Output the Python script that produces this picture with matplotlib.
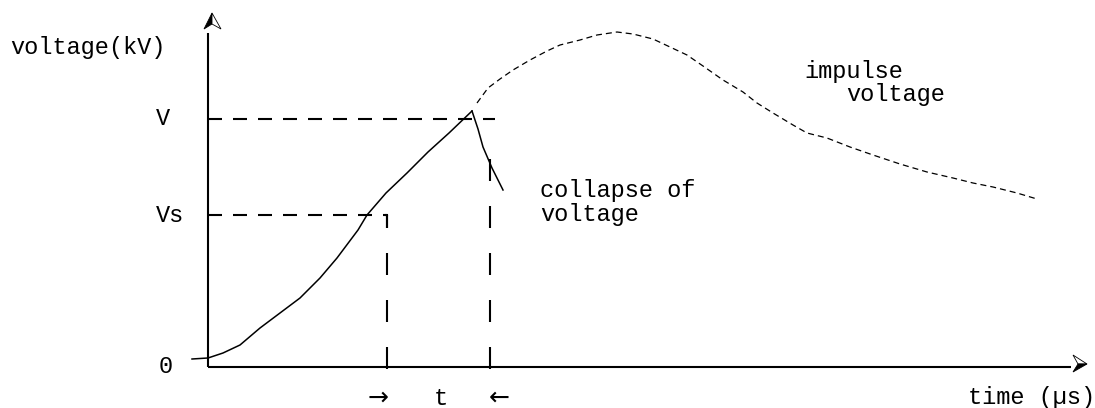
import matplotlib
matplotlib.use("Agg")
import matplotlib.pyplot as plt
from matplotlib.patches import Polygon

plt.rcParams['lines.scale_dashes'] = False
FONT = ['Liberation Mono', 'DejaVu Sans Mono']
FS = 17

# ---- data (time / voltage in arbitrary schematic units) ----
rise_t = [-16, 0, 15, 32, 52, 72, 92, 112, 129, 150, 159, 178, 199, 220, 241, 264]
rise_v = [8, 9, 14, 22, 39, 54, 69, 89, 109, 137, 152, 174, 194, 215, 234, 256]
collapse_t = [264, 270, 275, 284, 295]
collapse_v = [256, 238, 220, 199, 177]
impulse_t = [269, 280, 292, 305, 322, 339, 352, 372, 389, 409, 425, 445, 462,
             479, 495, 515, 535, 549, 565, 585, 599, 619, 642, 665, 692, 719,
             745, 765, 785, 809, 829]
impulse_v = [264, 279, 288, 297, 307, 316, 322, 327, 332, 335, 333, 328, 320,
             312, 301, 287, 275, 264, 254, 242, 234, 229, 220, 212, 203, 195,
             189, 184, 180, 174, 168]
V_level = 248
Vs_level = 152
V_dash_end = 287
t_s = 179
t_b = 282
t_b_top = 214
x_axis_end = 863
y_axis_end = 334

fig = plt.figure(figsize=(10.95, 4.08), dpi=100)
ax = fig.add_axes([0, 0, 1, 1])
ax.set_xlim(-208, 887)
ax.set_ylim(-41, 367)
ax.axis('off')

px = 0.72  # points per pixel

# axes lines
ax.plot([0, x_axis_end], [0, 0], color='black', lw=1.5, solid_capstyle='butt')
ax.plot([0, 0], [0, y_axis_end], color='black', lw=1.5, solid_capstyle='butt')

# arrowheads (half filled, half outlined)
def up_arrow(x, ybase):
    tip = (x + 4, ybase + 20)
    left = (x - 4, ybase + 4)
    right = (x + 13, ybase + 4)
    mid = (x + 4, ybase + 9)
    ax.add_patch(Polygon([tip, left, mid], closed=True, fc='black', ec='black', lw=0.6))
    ax.add_patch(Polygon([tip, mid, right], closed=True, fc='white', ec='black', lw=0.6))

def right_arrow(xbase, y):
    tip = (xbase + 16, y + 3)
    top = (xbase + 2, y + 12)
    bot = (xbase + 2, y - 5)
    mid = (xbase + 7, y + 3)
    ax.add_patch(Polygon([tip, top, mid], closed=True, fc='white', ec='black', lw=0.6))
    ax.add_patch(Polygon([tip, mid, bot], closed=True, fc='black', ec='black', lw=0.6))

up_arrow(0, y_axis_end)
right_arrow(x_axis_end, 0)

# level dashed lines
hd = (0, (14 * px, 11 * px))
ax.plot([0, V_dash_end], [V_level, V_level], color='black', lw=1.5, linestyle=hd,
        dash_capstyle='butt')
ax.plot([0, t_s], [Vs_level, Vs_level], color='black', lw=1.5, linestyle=hd,
        dash_capstyle='butt')
vd = (0, (22 * px, 25 * px))
ax.plot([t_s, t_s], [-2, Vs_level], color='black', lw=1.5, linestyle=vd,
        dash_capstyle='butt')
ax.plot([t_s - 1, t_s], [Vs_level, Vs_level], color='black', lw=1.5)
ax.plot([t_s, t_s], [Vs_level, Vs_level - 13], color='black', lw=1.5,
        solid_capstyle='butt')
ax.plot([t_b, t_b], [-2, t_b_top], color='black', lw=1.5, linestyle=vd,
        dash_capstyle='butt')

# curves
ax.plot(rise_t, rise_v, color='black', lw=1.1, solid_joinstyle='round')
ax.plot(collapse_t, collapse_v, color='black', lw=1.1, solid_joinstyle='round')
ax.plot(impulse_t, impulse_v, color='black', lw=0.9,
        linestyle=(0, (6 * px, 4 * px)))

# texts
def txt(x, y, s, **kw):
    ax.text(x, y, s, fontsize=FS, family=FONT, color='black', ha='left',
            va='baseline', **kw)

txt(-198, 313, 'voltage(kV)')
txt(-52, 242, 'V')
txt(-52, 145, 'Vs')
txt(-49, -6, '0')
txt(332, 170, 'collapse of')
txt(332, 146, 'voltage')
txt(596, 289, 'impulse')
txt(638, 266, 'voltage')
txt(760, -37, 'time (\u00b5s)')
ax.text(170, -38, '\u2192', fontsize=18, family=['DejaVu Sans'], ha='center',
        va='baseline')
ax.text(233, -38, 't', fontsize=FS, family=FONT, ha='center', va='baseline')
ax.text(291, -38, '\u2190', fontsize=18, family=['DejaVu Sans'], ha='center',
        va='baseline')

fig.savefig('out.png', dpi=100)
